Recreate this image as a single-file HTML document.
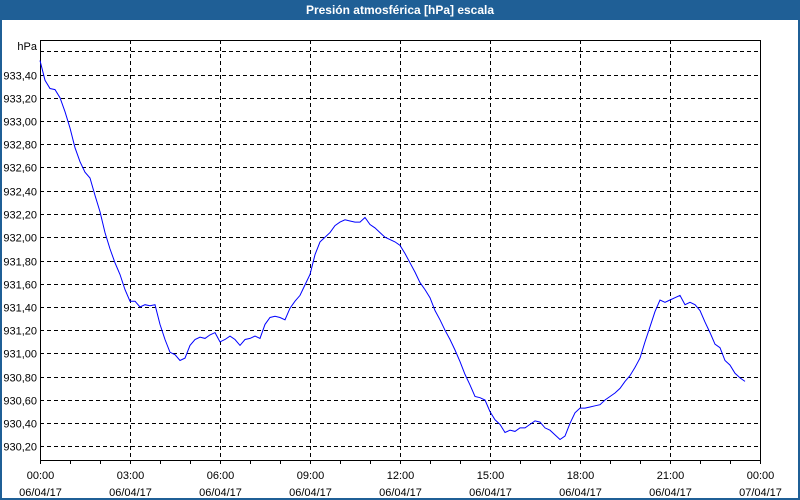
<!DOCTYPE html>
<html><head><meta charset="utf-8"><style>
body{margin:0;background:#fff;font-family:"Liberation Sans",sans-serif}
#wrap{position:relative;width:796px;height:498px;border:2px solid #1f5f96;border-top:none;}
#title{position:absolute;left:0;top:0;width:800px;height:20px;background:#1f5f96;color:#fff;font-weight:bold;font-size:12px;text-align:center;line-height:20px}
</style></head><body>
<div id="title">Presión atmosférica [hPa] escala</div>
<div id="wrap" style="position:absolute;left:0;top:0;width:796px;height:498px"></div>
<svg id="c" width="800" height="500" style="position:absolute;left:0;top:0"></svg>
<script>
const yTicks=[930.20,930.40,930.60,930.80,931.00,931.20,931.40,931.60,931.80,932.00,932.20,932.40,932.60,932.80,933.00,933.20,933.40,933.60];
const xTickHours=[0,3,6,9,12,15,18,21,24];
const xTickTimes=["00:00","03:00","06:00","09:00","12:00","15:00","18:00","21:00","00:00"];
const xTickDates=["06/04/17","06/04/17","06/04/17","06/04/17","06/04/17","06/04/17","06/04/17","06/04/17","07/04/17"];
const pressure=[933.52,933.35,933.28,933.27,933.20,933.08,932.94,932.77,932.65,932.56,932.51,932.36,932.22,932.04,931.90,931.78,931.68,931.55,931.45,931.45,931.40,931.42,931.41,931.42,931.25,931.12,931.01,930.99,930.94,930.96,931.07,931.12,931.14,931.13,931.16,931.18,931.10,931.12,931.15,931.12,931.07,931.12,931.13,931.15,931.13,931.25,931.31,931.32,931.31,931.29,931.39,931.45,931.50,931.59,931.68,931.85,931.96,932.00,932.04,932.10,932.13,932.15,932.14,932.13,932.13,932.17,932.11,932.08,932.04,932.00,931.98,931.96,931.93,931.86,931.78,931.70,931.61,931.55,931.48,931.37,931.29,931.20,931.12,931.03,930.93,930.82,930.73,930.63,930.62,930.60,930.50,930.43,930.39,930.32,930.34,930.33,930.36,930.36,930.39,930.42,930.41,930.36,930.34,930.30,930.26,930.29,930.40,930.49,930.53,930.53,930.54,930.55,930.56,930.60,930.63,930.66,930.70,930.76,930.81,930.88,930.96,931.10,931.23,931.36,931.46,931.44,931.46,931.48,931.50,931.42,931.44,931.42,931.37,931.27,931.18,931.08,931.05,930.94,930.90,930.83,930.79,930.76];
const stepMinutes=10;
const L=40,R=760,T=40,B=460;
const xs=h=>L+(h/24)*(R-L);
const ys=v=>74.5+(933.40-v)*581.25/10*1; // 116.25 px per hPa
function ysf(v){return 74.5+(933.40-v)*116.25;}
const svg=document.getElementById('c');const NS='http://www.w3.org/2000/svg';
function mk(t,a){const e=document.createElementNS(NS,t);for(const k in a)e.setAttribute(k,a[k]);svg.appendChild(e);return e;}
let e;
yTicks.forEach((v,i)=>{const y=Math.round(ysf(v))+0.5;
 e=mk('line',{x1:L,x2:R,y1:y,y2:y,stroke:'#000','stroke-dasharray':'4,3'});
 
 
 if(v<933.5){e=mk('text',{x:L-3,y:y+4,'text-anchor':'end','font-size':'11','font-family':'Liberation Sans, sans-serif',fill:'#000'});e.textContent=v.toFixed(2).replace('.',',');
 
 }
});
xTickHours.forEach((h,i)=>{const x=Math.round(xs(h))+0.5;
 if(h>0&&h<24){e=mk('line',{x1:x,x2:x,y1:T,y2:B,stroke:'#000','stroke-dasharray':'4,3'});
 
 }
 e=mk('text',{x:x,y:479,'text-anchor':'middle','font-size':'11','font-family':'Liberation Sans, sans-serif'});e.textContent=xTickTimes[i];
 
 
 e=mk('text',{x:x,y:496,'text-anchor':'middle','font-size':'11','font-family':'Liberation Sans, sans-serif'});e.textContent=xTickDates[i];
 
 
});
for(let h=0;h<=24;h++){const x=Math.round(xs(h))+0.5;e=mk('line',{x1:x,x2:x,y1:B,y2:B+4,stroke:'#000'});
 
 }
e=mk('rect',{x:L+0.5,y:T+0.5,width:R-L,height:B-T,fill:'none',stroke:'#000'});


e=mk('text',{x:L-3,y:50,'text-anchor':'end','font-size':'11','font-family':'Liberation Sans, sans-serif'});e.textContent='hPa';


const pts=pressure.map((v,i)=>xs(i*stepMinutes/60).toFixed(1)+','+ysf(v).toFixed(1)).join(' ');
e=mk('polyline',{points:pts,fill:'none',stroke:'#0000ff','stroke-width':'1'});


</script>
</body></html>
